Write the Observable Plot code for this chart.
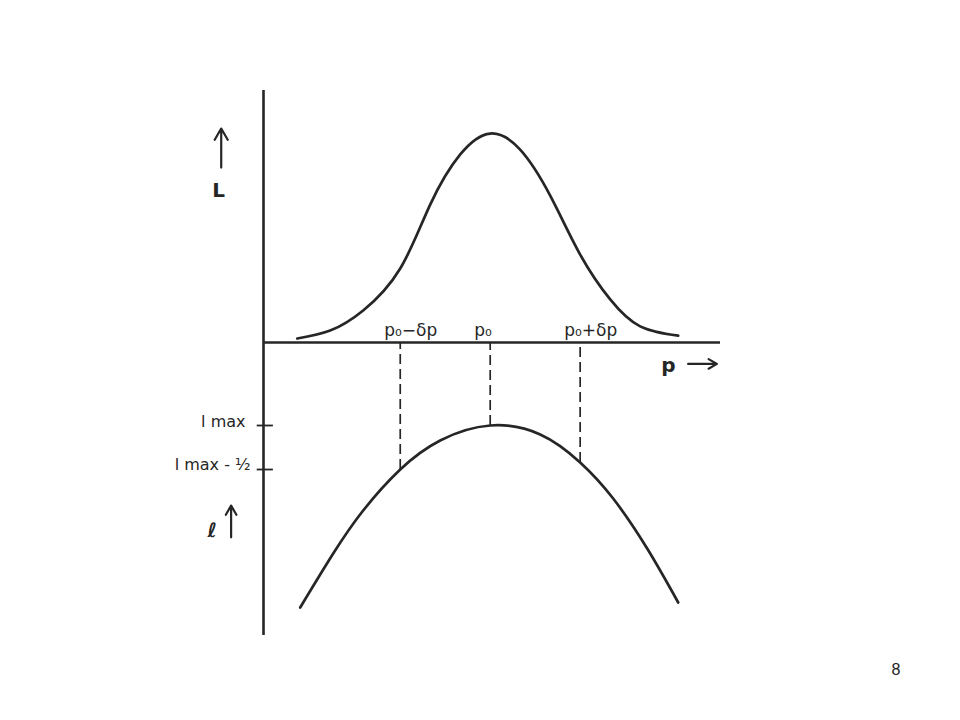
<!DOCTYPE html>
<html>
<head>
<meta charset="utf-8">
<script src="https://cdn.jsdelivr.net/npm/d3@7"></script>
<script src="https://cdn.jsdelivr.net/npm/@observablehq/plot@0.6"></script>
<style>
  html, body { margin: 0; padding: 0; background: #fff; }
  #page { position: relative; width: 960px; height: 720px; overflow: hidden; background: #fff; }
  #upper, #lower { position: absolute; left: 0; }
  #upper { top: 0; }
  #lower { top: 342px; }
  #pageno { position: absolute; left: 886px; top: 661px; width: 20px; text-align: center;
            font-family: "Liberation Sans", Arial, sans-serif; font-size: 16px; color: #222; }
</style>
</head>
<body>
<div id="page">
  <div id="upper"></div>
  <div id="lower"></div>
  <div id="pageno">8</div>
</div>
<script>
// ---- Data (p in units of δp, p0 = 0) ----
// Upper curve: likelihood L (peak normalised to 1)
const gaussP = [-2.145, -1.779, -1.412, -1.0, -0.667, -0.333, 0.0, 0.333, 0.667, 1.0, 1.334, 1.667, 2.090];
const gaussL = [0.019, 0.057, 0.153, 0.354, 0.660, 0.900, 1.0, 0.923, 0.703, 0.421, 0.206, 0.077, 0.033];
// Lower curve: log-likelihood ℓ relative to ℓmax
const logP = [-2.112, -1.745, -1.412, -1.0, -0.556, 0.0, 0.556, 1.0, 1.367, 1.745, 2.090];
const logL = [-2.068, -1.455, -0.966, -0.500, -0.170, 0.0, -0.102, -0.420, -0.830, -1.398, -2.011];
// p-axis marks
const markP = [-1, 0, 1];
const markLabels = ["p\u2080\u2212\u03b4p", "p\u2080", "p\u2080+\u03b4p"];
const dashEnds = [-0.50, 0.0, -0.42];   // ℓ where the dashed lines meet the lower curve
// ℓ-axis marks
const lTicks = [0, -0.5];
const lTickLabels = ["l max", "l max - \u00bd"];

// ---- Tables built from the arrays ----
const gaussRows = gaussP.map((p, i) => ({p, L: gaussL[i]}));
const logRows = logP.map((p, i) => ({p, l: logL[i]}));
const markRows = markP.map((p, i) => ({p, label: markLabels[i], end: dashEnds[i]}));

const ink = "#262626";
const xDomain = [-2.52, 2.56];
const axisP = xDomain[0];
const font = "DejaVu Sans, sans-serif";

// ---- Upper panel: L versus p ----
const upperPlot = Plot.plot({
  width: 960, height: 360,
  marginLeft: 263, marginRight: 240, marginTop: 90, marginBottom: 18,
  x: {domain: xDomain, axis: null},
  y: {domain: [0, 1.206], axis: null},
  style: {background: "transparent", fontFamily: font, color: ink, overflow: "visible"},
  marks: [
    Plot.ruleX([axisP], {stroke: ink, strokeWidth: 2.6}),
    Plot.ruleY([0], {stroke: ink, strokeWidth: 2.6}),
    Plot.line(gaussRows, {x: "p", y: "L", curve: "natural", stroke: ink, strokeWidth: 2.7}),
    Plot.text(markRows, {x: "p", y: 0, text: "label", textAnchor: "start", dx: -16, dy: -12, fontSize: 17, fill: ink}),
    Plot.arrow([{x: -2.99, y1: 0.837, y2: 1.024}], {x1: "x", x2: "x", y1: "y1", y2: "y2", stroke: ink, strokeWidth: 2.2, headLength: 9}),
    Plot.text([{x: -3.02, y: 0.727, t: "L"}], {x: "x", y: "y", text: "t", fontSize: 20, fontWeight: "bold", fill: ink})
  ]
});
document.getElementById("upper").appendChild(upperPlot);

// ---- Lower panel: ℓ versus p ----
const lowerPlot = Plot.plot({
  width: 960, height: 378,
  marginLeft: 263, marginRight: 240, marginTop: 0, marginBottom: 85,
  x: {domain: xDomain, axis: null},
  y: {domain: [-2.386, 0.943], axis: null},
  style: {background: "transparent", fontFamily: font, color: ink, overflow: "visible"},
  marks: [
    Plot.ruleX([axisP], {stroke: ink, strokeWidth: 2.6}),
    Plot.ruleY(lTicks, {x1: -2.59, x2: -2.41, stroke: ink, strokeWidth: 1.8}),
    Plot.ruleX(markRows, {x: "p", y1: "end", y2: 0.943, stroke: ink, strokeWidth: 1.7, strokeDasharray: "10,5"}),
    Plot.line(logRows, {x: "p", y: "l", curve: "natural", stroke: ink, strokeWidth: 2.7}),
    Plot.text([lTicks[0]], {x: axisP, y: d => d, text: () => lTickLabels[0], textAnchor: "end", dx: -18, dy: -4, fontSize: 16, fill: ink}),
    Plot.text([lTicks[1]], {x: axisP, y: d => d, text: () => lTickLabels[1], textAnchor: "end", dx: -13, dy: -5, fontSize: 16, fill: ink}),
    Plot.arrow([{x: -2.88, y1: -1.27, y2: -0.91}], {x1: "x", x2: "x", y1: "y1", y2: "y2", stroke: ink, strokeWidth: 2.2, headLength: 8}),
    Plot.text([{x: -3.09, y: -1.19, t: "\u2113"}], {x: "x", y: "y", text: "t", fontSize: 20, fontWeight: "bold", fill: ink}),
    Plot.text([{x: 1.98, y: 0.68, t: "p"}], {x: "x", y: "y", text: "t", fontSize: 20, fontWeight: "bold", fill: ink}),
    Plot.arrow([{x1: 2.20, x2: 2.52, y: 0.70}], {x1: "x1", x2: "x2", y1: "y", y2: "y", stroke: ink, strokeWidth: 2.2, headLength: 8})
  ]
});
document.getElementById("lower").appendChild(lowerPlot);
</script>
</body>
</html>
